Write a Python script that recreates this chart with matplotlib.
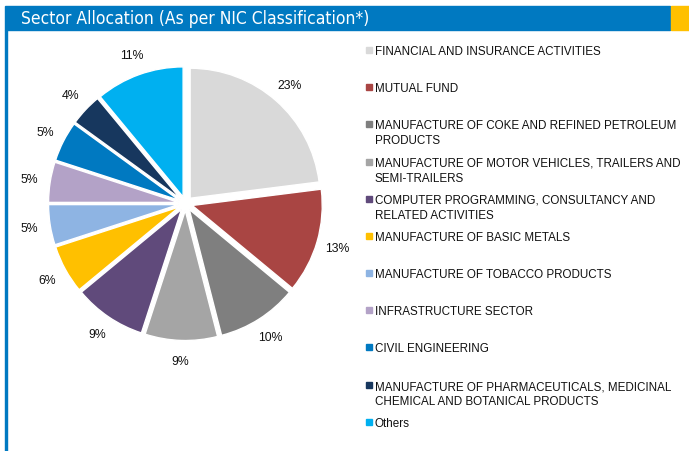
import matplotlib
matplotlib.use("Agg")
import matplotlib.pyplot as plt
from matplotlib.patches import Rectangle
from matplotlib import font_manager

categories = [
    "FINANCIAL AND INSURANCE ACTIVITIES",
    "MUTUAL FUND",
    "MANUFACTURE OF COKE AND REFINED PETROLEUM\nPRODUCTS",
    "MANUFACTURE OF MOTOR VEHICLES, TRAILERS AND\nSEMI-TRAILERS",
    "COMPUTER PROGRAMMING, CONSULTANCY AND\nRELATED ACTIVITIES",
    "MANUFACTURE OF BASIC METALS",
    "MANUFACTURE OF TOBACCO PRODUCTS",
    "INFRASTRUCTURE SECTOR",
    "CIVIL ENGINEERING",
    "MANUFACTURE OF PHARMACEUTICALS, MEDICINAL\nCHEMICAL AND BOTANICAL PRODUCTS",
    "Others",
]
shares = [23, 13, 10, 9, 9, 6, 5, 5, 5, 4, 11]
colors = ["#D9D9D9", "#A94543", "#7F7F7F", "#A5A5A5", "#604A7B", "#FFC000",
          "#8EB4E3", "#B3A2C7", "#0079C1", "#17375E", "#00B0F0"]
title = "Sector Allocation (As per NIC Classification*)"

W, H = 689, 452
fig = plt.figure(figsize=(W / 100, H / 100), dpi=100)
fig.patch.set_facecolor("white")

def px(x, y):
    return x / W, 1 - y / H

# pick a narrow face for the header if one is installed
fonts = font_manager.fontManager.ttflist
names = {f.name for f in fonts}
title_kw = dict(family="Liberation Sans", fontsize=12.5)
if "Liberation Sans Narrow" in names:
    title_kw = dict(family="Liberation Sans Narrow", fontsize=14.5)
elif any(f.name == "DejaVu Sans" and f.stretch == "condensed" for f in fonts):
    title_kw = dict(family="DejaVu Sans", fontstretch="condensed", fontsize=12.5)
body_font = "Liberation Sans"
ink = "#111111"

# header band, accent block and left rule
blue = "#0079C1"
fig.patches.append(Rectangle((5 / W, 1 - 31 / H), (670 - 5) / W, 24 / H,
                             transform=fig.transFigure, color=blue, zorder=0))
fig.patches.append(Rectangle((671 / W, 1 - 31 / H), (689 - 671) / W, 24 / H,
                             transform=fig.transFigure, color="#FFC000", zorder=0))
fig.patches.append(Rectangle((5 / W, 0), 2 / W, 1 - 31 / H,
                             transform=fig.transFigure, color=blue, zorder=0))
fig.text(*px(21, 19.5), title, color="white", ha="left", va="center", **title_kw)

# pie
cx, cy, R = 185.5, 204.5, 130
span = 1.4
half = span * R
ax = fig.add_axes([(cx - half) / W, (H - cy - half) / H, 2 * half / W, 2 * half / H])
ax.pie(shares, colors=colors, startangle=90, counterclock=False,
       explode=[0.054] * len(shares), radius=1,
       autopct=lambda p: f"{p:.0f}%", pctdistance=1.16,
       wedgeprops=dict(edgecolor="white", linewidth=1.0),
       textprops=dict(fontsize=8.8, family=body_font, color=ink))
ax.set_xlim(-span, span)
ax.set_ylim(-span, span)
ax.set_aspect("equal")
ax.axis("off")

# legend
rows = [51, 88, 125, 163, 200, 237, 274, 311, 348, 386, 423]
for y, name, c in zip(rows, categories, colors):
    fig.patches.append(Rectangle((366 / W, 1 - (y + 3) / H), 6 / W, 6 / H,
                                 transform=fig.transFigure, color=c))
    fig.text(*px(375, y - 5), name, fontsize=8.4, family=body_font,
             color=ink, ha="left", va="top", linespacing=1.33)

fig.savefig("out.png", dpi=100, facecolor="white")
